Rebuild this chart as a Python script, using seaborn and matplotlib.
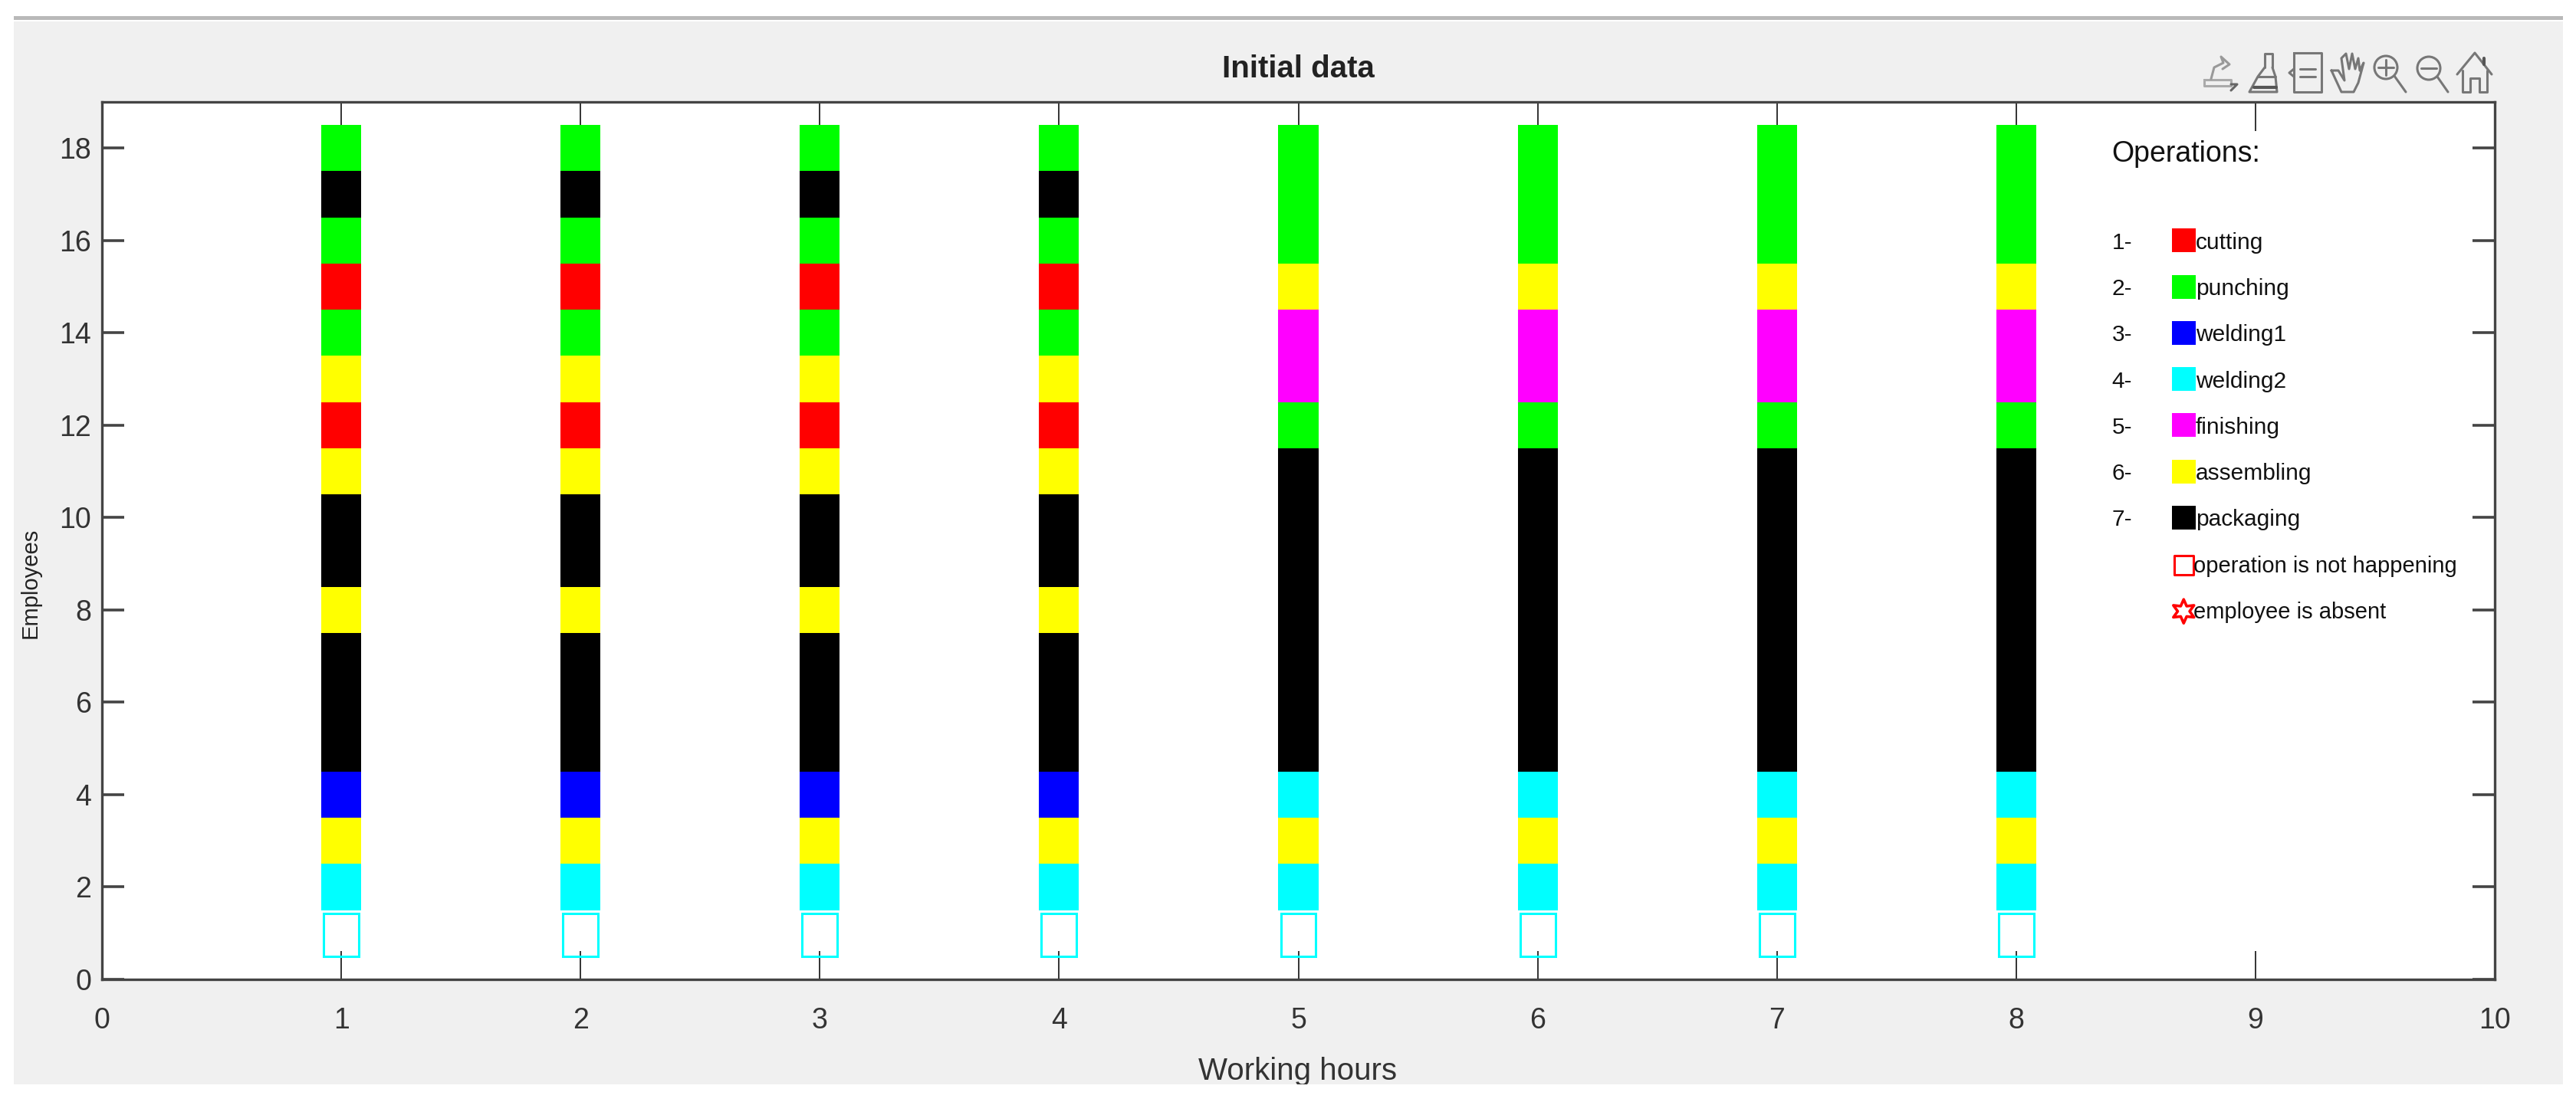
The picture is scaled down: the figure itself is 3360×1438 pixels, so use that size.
import numpy as np
import pandas as pd
import seaborn as sns
import matplotlib
matplotlib.use("Agg")
import matplotlib.pyplot as plt
from matplotlib.lines import Line2D
from matplotlib.patches import Rectangle, Circle
from matplotlib.transforms import Affine2D

# operation number per employee (1..18), 0 = operation is not happening
employees = list(range(1, 19))
ops_first_hours = [0, 4, 6, 3, 7, 7, 7, 6, 7, 7, 6, 1, 6, 2, 1, 2, 7, 2]
ops_last_hours = [0, 4, 6, 4, 7, 7, 7, 7, 7, 7, 7, 2, 5, 5, 6, 2, 2, 2]
first_hours = [1, 2, 3, 4]
last_hours = [5, 6, 7, 8]

op_names = ["cutting", "punching", "welding1", "welding2", "finishing", "assembling", "packaging"]
op_colors = ["#ff0000", "#00ff00", "#0000ff", "#00ffff", "#ff00ff", "#ffff00", "#000000"]
legend_y = [16, 15, 14, 13, 12, 11, 10]

sns.set_theme(style="white")
plt.rcParams["font.family"] = ["Liberation Sans", "DejaVu Sans"]

rows = []
for hours, ops in [(first_hours, ops_first_hours), (last_hours, ops_last_hours)]:
    for h in hours:
        for e, o in zip(employees, ops):
            rows.append({"hour": h, "employee": e, "op": o})
df = pd.DataFrame(rows)

fig = plt.figure(figsize=(33.6, 14.38), dpi=100, facecolor="white")
pix = Affine2D().scale(1 / 3360, -1 / 1438).translate(0, 1) + fig.transFigure

panel = Rectangle((18, 28), 3325, 1387, transform=pix, facecolor="#f0f0f0", edgecolor="none", zorder=-2)
fig.add_artist(panel)
fig.add_artist(Rectangle((18, 21), 3325, 5, transform=pix, facecolor="#b9b9b9", edgecolor="none", zorder=-2))

ax = fig.add_axes([133 / 3360, 1 - 1278 / 1438, 3121 / 3360, 1145 / 1438])
ax.set_facecolor("white")

# one stacked segment per employee, bar height 1 centred on the employee number
for o, color in zip(range(1, 8), op_colors):
    for e in employees:
        sub = df[(df["op"] == o) & (df["employee"] == e)]
        if len(sub) == 0:
            continue
        sub = sub.assign(height=1.0)
        sns.barplot(data=sub, x="hour", y="height", native_scale=True, width=0.167,
                    color=color, saturation=1, linewidth=0, bottom=e - 0.5, errorbar=None, ax=ax)

empty = df[df["op"] == 0].assign(height=0.93)
sns.barplot(data=empty, x="hour", y="height", native_scale=True, width=0.147, fill=False,
            color="#00ffff", saturation=1, linewidth=2.2, bottom=0.5, errorbar=None, ax=ax)

ax.set_xlim(0, 10)
ax.set_ylim(0, 19)
ax.set_xticks(range(0, 11))
ax.set_yticks(range(0, 19, 2))
ax.tick_params(axis="x", which="both", direction="in", top=True, bottom=True, length=27, width=1.4,
               color="#333333", labelsize=27, labelcolor="#333333", pad=26)
ax.tick_params(axis="y", which="both", direction="in", left=True, right=True, length=21, width=2.6,
               color="#444444", labelsize=27, labelcolor="#333333", pad=10)
for side, spine in ax.spines.items():
    spine.set_visible(True)
    spine.set_color("#444444")
    spine.set_linewidth(2.4)

fig.text(1693 / 3360, 1 - 90 / 1438, "Initial data", fontsize=29, fontweight="bold", color="#222222",
         ha="center", va="center")
xlab = fig.text(1693 / 3360, 1 - 1398 / 1438, "Working hours", fontsize=29, color="#333333",
                ha="center", va="center", clip_on=True)
xlab.set_clip_path(panel)
fig.text(40 / 3360, 1 - 761 / 1438, "Employees", fontsize=21, color="#222222", rotation=90, ha="center", va="center")

# legend inside the axes
ax.text(8.40, 17.87, "Operations:", fontsize=27, color="#111111", va="center")
leg = pd.DataFrame({"x": [8.70] * len(legend_y), "y": legend_y, "name": op_names})
sns.scatterplot(data=leg, x="x", y="y", hue="name", palette=dict(zip(op_names, op_colors)), marker="s",
                s=500, linewidth=0, legend=False, ax=ax, zorder=3)
for i, (name, y) in enumerate(zip(op_names, legend_y)):
    ax.text(8.40, y - 0.05, f"{i + 1}-", fontsize=21.5, color="#111111", va="center")
    ax.text(8.75, y - 0.05, name, fontsize=21.5, color="#111111", va="center")

sns.scatterplot(x=[8.70], y=[8.97], marker="s", s=320, facecolors="none", edgecolor="#ff0000", linewidth=2.2,
                legend=False, ax=ax)
sns.scatterplot(x=[8.70], y=[7.97], marker=(6, 1, 0), s=500, facecolors="none", edgecolor="#ff0000", linewidth=2.6,
                legend=False, ax=ax)
ax.text(8.74, 8.95, "operation is not happening", fontsize=21, color="#111111", va="center")
ax.text(8.74, 7.95, "employee is absent", fontsize=21, color="#111111", va="center")
ax.set_xlabel("")
ax.set_ylabel("")


# toolbar icons, rough line drawings in pixel coordinates of the picture
def icon(xs, ys, color="#777777", lw=2.2):
    fig.add_artist(Line2D(xs, ys, transform=pix, color=color, linewidth=lw, solid_capstyle="round"))


def lens(cx, cy, tx, ty):
    fig.add_artist(Circle((cx, cy), 15, transform=pix, fill=False, edgecolor="#777777", linewidth=2.2))
    icon([cx + 11, tx], [cy + 11, ty])


# pen
icon([2875, 2910, 2910, 2875, 2875], [104, 104, 112, 112, 104], "#aaaaaa")
icon([2884, 2888, 2900, 2897, 2908, 2899], [103, 88, 82, 74, 84, 90], "#999999")
icon([2910, 2918, 2910], [118, 110, 110], "#666666")
# brush
icon([2954, 2954, 2964, 2964], [88, 70, 70, 88])
icon([2954, 2945, 2934, 2970, 2968, 2964], [88, 100, 120, 120, 100, 88])
icon([2945, 2968], [100, 100])
icon([2940, 2969], [114, 114], "#555555", 3.0)
# legend box
icon([2992, 3028, 3028, 2992, 2992], [69, 69, 120, 120, 69])
icon([2992, 2986, 2992], [90, 95, 100])
icon([3000, 3020], [90, 90])
icon([3000, 3020], [100, 100])
# hand
icon([3041, 3050, 3058, 3054, 3060, 3064, 3068, 3072, 3076, 3078, 3083, 3076, 3070, 3054, 3041],
     [92, 92, 105, 76, 70, 90, 70, 90, 76, 92, 82, 108, 120, 120, 92])
# zoom in and zoom out
lens(3112, 88, 3138, 120)
icon([3102, 3122], [88, 88])
icon([3112, 3112], [78, 98])
lens(3168, 89, 3193, 120)
icon([3158, 3178], [89, 89])
# house
icon([3205, 3228, 3250], [97, 69, 97])
icon([3212, 3212, 3222, 3222, 3234, 3234, 3244, 3244], [92, 120, 120, 102, 102, 120, 120, 92])
icon([3240, 3240], [76, 84], "#555555", 3.0)

fig.savefig("out.png", dpi=100)
